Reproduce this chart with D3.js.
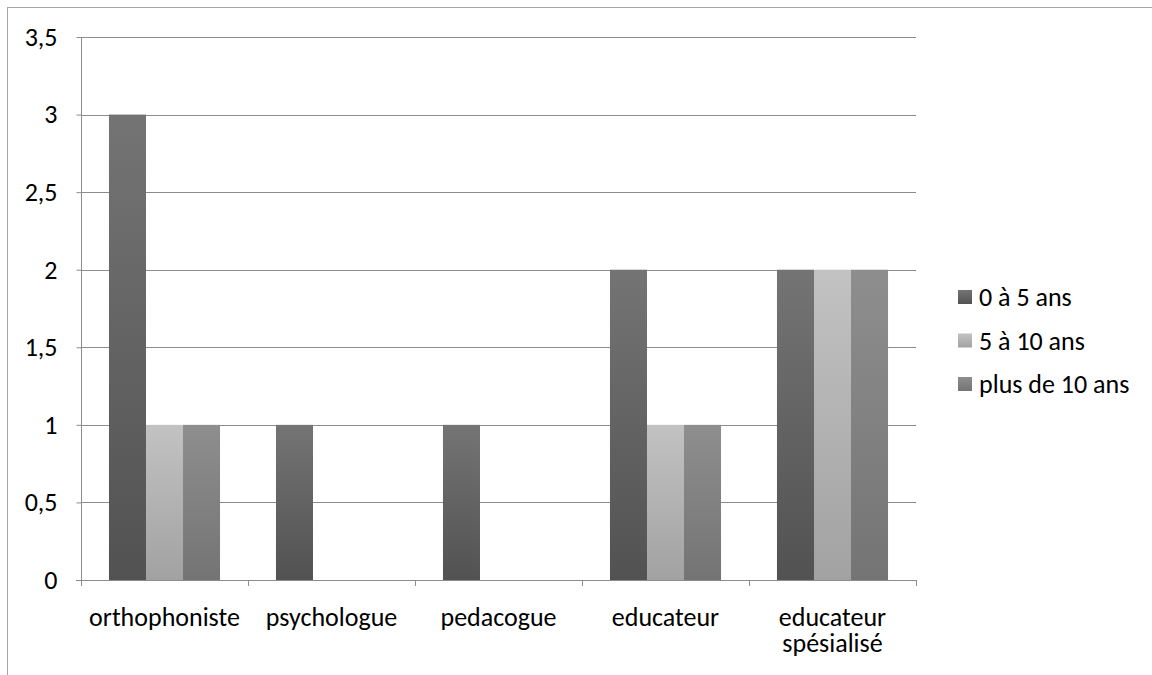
<!DOCTYPE html>
<html><head><meta charset="utf-8">
<script src="https://cdn.jsdelivr.net/npm/d3@7"></script>
<style>body{margin:0;background:#fff}svg{display:block}text{font-family:Carlito,Lato,"Liberation Sans",sans-serif;fill:#000}</style>
</head><body><svg id="c" width="1152" height="675"></svg>
<script>
const categories = ["orthophoniste", "psychologue", "pedacogue", "educateur", "educateur spésialisé"];
const categoryLines = [["orthophoniste"], ["psychologue"], ["pedacogue"], ["educateur"], ["educateur", "spésialisé"]];
const seriesNames = ["0 à 5 ans", "5 à 10 ans", "plus de 10 ans"];
const s0to5 = [3, 1, 1, 2, 2];
const s5to10 = [1, 0, 0, 1, 2];
const sOver10 = [1, 0, 0, 1, 2];
const yTicks = [0, 0.5, 1, 1.5, 2, 2.5, 3, 3.5];
const gradTop = ["#747474", "#c2c2c2", "#8e8e8e"];
const gradBot = ["#525252", "#a2a2a2", "#747474"];

const FS = 26;
const series = [s0to5, s5to10, sOver10];
const svg = d3.select("#c");
const defs = svg.append("defs");
seriesNames.forEach((n,i)=>{
  const g = defs.append("linearGradient").attr("id","g"+i).attr("x1",0).attr("y1",0).attr("x2",0).attr("y2",1);
  g.append("stop").attr("offset","0%").attr("stop-color",gradTop[i]);
  g.append("stop").attr("offset","100%").attr("stop-color",gradBot[i]);
});

// outer border
svg.append("rect").attr("x",7.5).attr("y",7.5).attr("width",1160).attr("height",700)
  .attr("fill","none").attr("stroke","#a6a6a6").attr("stroke-width",1);

const L=81, R=916, T=37, B=580;
const y = d3.scaleLinear().domain([0,3.5]).range([B,T]);
const x0 = d3.scaleBand().domain(categories).range([L,R]).paddingInner(0.335).paddingOuter(0.1675);
const x1 = d3.scaleBand().domain(seriesNames).range([0,x0.bandwidth()]);

// gridlines
svg.append("g").selectAll("line").data(yTicks.filter(d=>d>0)).join("line")
  .attr("x1",L).attr("x2",R).attr("y1",d=>Math.round(y(d))+0.5).attr("y2",d=>Math.round(y(d))+0.5)
  .attr("stroke","#8c8c8c").attr("stroke-width",1);

// y axis
const ya = svg.append("g").attr("transform",`translate(${L+0.5},0)`)
  .call(d3.axisLeft(y).tickValues(yTicks).tickSize(5).tickPadding(19).tickFormat(d=>String(d).replace(".",",")));
ya.attr("font-size",FS).attr("font-family",null);
ya.select(".domain").attr("stroke","#8c8c8c").attr("d",`M0,${T}V${B}`);
ya.selectAll(".tick line").attr("stroke","#8c8c8c");
ya.selectAll(".tick text").attr("font-size",FS).attr("fill","#000");

// bars
const groups = svg.append("g").selectAll("g").data(categories).join("g")
  .attr("transform",d=>`translate(${x0(d)},0)`);
groups.selectAll("rect").data((c,ci)=>series.map((s,si)=>({si, v:s[ci]}))).join("rect")
  .filter(d=>d.v>0)
  .attr("x",d=>x1(seriesNames[d.si])).attr("width",x1.bandwidth())
  .attr("y",d=>y(d.v)).attr("height",d=>y(0)-y(d.v))
  .attr("fill",d=>`url(#g${d.si})`);

// x axis
const step = x0.step();
const edges = d3.range(categories.length+1).map(i=>L+i*step);
svg.append("line").attr("x1",L-5).attr("x2",R).attr("y1",B+0.5).attr("y2",B+0.5).attr("stroke","#8c8c8c");
svg.append("g").selectAll("line").data(edges).join("line")
  .attr("x1",d=>Math.round(d)+0.5).attr("x2",d=>Math.round(d)+0.5).attr("y1",B).attr("y2",B+6).attr("stroke","#8c8c8c");
const xl = svg.append("g").selectAll("text").data(categories).join("text")
  .attr("x",d=>x0(d)+x0.bandwidth()/2).attr("y",626).attr("text-anchor","middle").attr("font-size",FS);
xl.each(function(d,i){
  const t=d3.select(this);
  categoryLines[i].forEach((ln,j)=>t.append("tspan").attr("x",x0(d)+x0.bandwidth()/2).attr("dy",j?26:0).text(ln));
});

// legend
const lg = svg.append("g").selectAll("g").data(seriesNames).join("g")
  .attr("transform",(d,i)=>`translate(958,${297+i*43.5})`);
lg.append("rect").attr("x",0).attr("y",-7).attr("width",14).attr("height",14).attr("fill",(d,i)=>`url(#g${i})`);
lg.append("text").attr("x",21).attr("y",9).attr("font-size",FS).text(d=>d);
</script></body></html>
